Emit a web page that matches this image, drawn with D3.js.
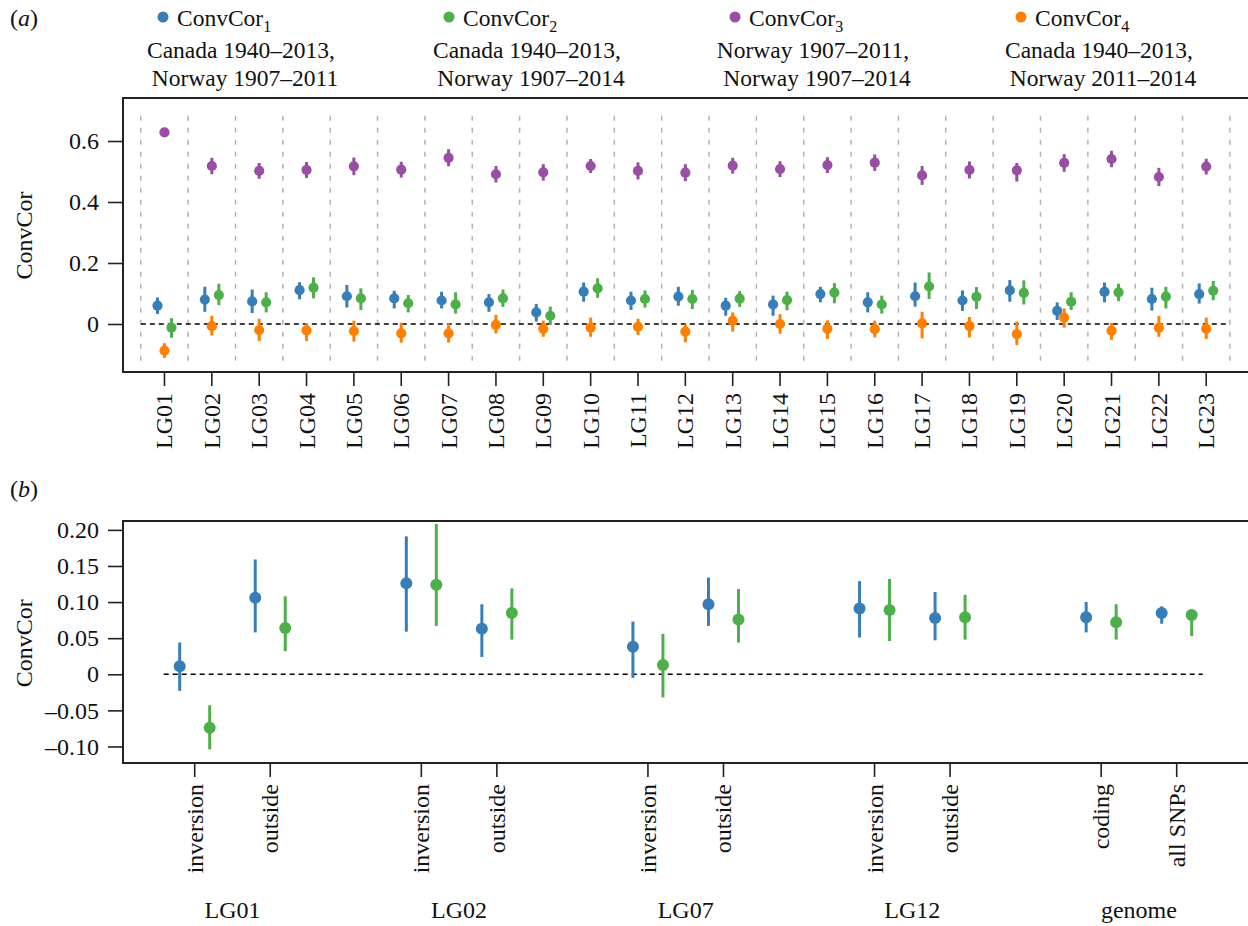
<!DOCTYPE html>
<html><head><meta charset="utf-8">
<script src="https://cdn.jsdelivr.net/npm/d3@7"></script>
<style>
body{margin:0;background:#fff;}
text{font-family:"Liberation Serif","Times New Roman",serif;fill:#111;}
</style></head>
<body><svg id="c" width="1248" height="926"></svg>
<script>
// ---------- DATA ----------
const categories = ["LG01","LG02","LG03","LG04","LG05","LG06","LG07","LG08","LG09","LG10","LG11","LG12","LG13","LG14","LG15","LG16","LG17","LG18","LG19","LG20","LG21","LG22","LG23"];

const cc1Val = [0.060,0.080,0.074,0.111,0.091,0.084,0.077,0.071,0.038,0.106,0.077,0.090,0.060,0.064,0.098,0.071,0.091,0.077,0.110,0.043,0.105,0.082,0.098];
const cc1Lo  = [0.033,0.040,0.036,0.081,0.054,0.051,0.051,0.040,0.008,0.073,0.046,0.060,0.027,0.027,0.071,0.038,0.057,0.043,0.073,0.013,0.071,0.044,0.067];
const cc1Hi  = [0.087,0.122,0.113,0.137,0.128,0.109,0.106,0.098,0.066,0.136,0.106,0.122,0.086,0.093,0.122,0.104,0.136,0.110,0.144,0.071,0.136,0.119,0.133];

const cc2Val = [-0.012,0.095,0.071,0.119,0.084,0.068,0.064,0.084,0.027,0.117,0.082,0.082,0.083,0.078,0.103,0.064,0.123,0.089,0.102,0.073,0.104,0.090,0.109];
const cc2Lo  = [-0.045,0.062,0.038,0.084,0.046,0.038,0.034,0.056,-0.003,0.086,0.054,0.049,0.056,0.045,0.068,0.034,0.082,0.049,0.064,0.046,0.075,0.051,0.078];
const cc2Hi  = [0.019,0.132,0.104,0.153,0.117,0.095,0.104,0.113,0.057,0.150,0.110,0.112,0.108,0.106,0.134,0.093,0.169,0.121,0.143,0.104,0.132,0.122,0.141];

const cc3Val = [0.628,0.518,0.502,0.505,0.517,0.506,0.545,0.491,0.497,0.518,0.502,0.496,0.519,0.508,0.521,0.529,0.487,0.505,0.504,0.528,0.541,0.482,0.516];
const cc3Lo  = [0.618,0.491,0.476,0.479,0.488,0.480,0.517,0.464,0.470,0.495,0.474,0.468,0.493,0.482,0.495,0.502,0.456,0.477,0.467,0.499,0.514,0.452,0.490];
const cc3Hi  = [0.640,0.545,0.528,0.531,0.546,0.532,0.573,0.518,0.524,0.541,0.530,0.524,0.545,0.534,0.547,0.556,0.518,0.533,0.528,0.557,0.568,0.512,0.542];

const cc4Val = [-0.087,-0.007,-0.020,-0.021,-0.023,-0.031,-0.031,-0.003,-0.016,-0.012,-0.009,-0.025,0.010,0.000,-0.016,-0.017,0.002,-0.007,-0.033,0.021,-0.022,-0.012,-0.016];
const cc4Lo  = [-0.111,-0.038,-0.056,-0.056,-0.058,-0.061,-0.061,-0.031,-0.042,-0.042,-0.036,-0.060,-0.025,-0.032,-0.049,-0.044,-0.047,-0.044,-0.069,-0.012,-0.052,-0.042,-0.049];
const cc4Hi  = [-0.063,0.027,0.017,0.003,0.011,0.004,0.002,0.030,0.011,0.021,0.017,-0.001,0.038,0.032,0.012,0.011,0.040,0.023,0.008,0.051,0.004,0.026,0.021];

const yTicksA = [0, 0.2, 0.4, 0.6];

const groupsB = ["LG01","LG02","LG07","LG12","genome"];
const subsB = [["inversion","outside"],["inversion","outside"],["inversion","outside"],["inversion","outside"],["coding","all SNPs"]];
const bBlueVal = [0.011,0.106,0.126,0.063,0.038,0.097,0.091,0.078,0.079,0.085];
const bBlueLo  = [-0.023,0.058,0.059,0.024,-0.005,0.067,0.051,0.047,0.058,0.070];
const bBlueHi  = [0.044,0.159,0.191,0.097,0.073,0.134,0.129,0.114,0.100,0.094];
const bGreenVal = [-0.074,0.064,0.124,0.085,0.013,0.076,0.089,0.079,0.072,0.082];
const bGreenLo  = [-0.104,0.032,0.067,0.048,-0.032,0.044,0.046,0.048,0.048,0.053];
const bGreenHi  = [-0.043,0.108,0.208,0.119,0.056,0.118,0.132,0.110,0.097,0.089];
const yTicksB = [-0.10,-0.05,0,0.05,0.10,0.15,0.20];

const legendNames = ["ConvCor","ConvCor","ConvCor","ConvCor"];
const legendSubs = ["1","2","3","4"];
const legendLine1 = ["Canada 1940–2013,","Canada 1940–2013,","Norway 1907–2011,","Canada 1940–2013,"];
const legendLine2 = ["Norway 1907–2011","Norway 1907–2014","Norway 1907–2014","Norway 2011–2014"];
const colors = ["#377eb8","#4daf4a","#984ea3","#ff7f00"];

// ---------- DRAW ----------
const svg = d3.select("#c");
const FS = 24;
const frameColor = "#222";

function panelLabel(y, letter){
  const t = svg.append("text").attr("x",10).attr("y",y).attr("font-size",FS);
  t.append("tspan").text("(");
  t.append("tspan").attr("font-style","italic").text(letter);
  t.append("tspan").text(")");
}
panelLabel(26,"a");
panelLabel(497,"b");

legendNames.forEach((n,i)=>{
  const dx = 163 + i*286;
  svg.append("circle").attr("cx",dx).attr("cy",17).attr("r",5.5).attr("fill",colors[i]);
  const t = svg.append("text").attr("x",dx+14).attr("y",26).attr("font-size",23.5);
  t.append("tspan").text(n);
  t.append("tspan").attr("font-size",16).attr("dy",6).text(legendSubs[i]);
  svg.append("text").attr("x",dx+78).attr("y",58).attr("text-anchor","middle").attr("font-size",23.5).text(legendLine1[i]);
  svg.append("text").attr("x",dx+82).attr("y",86).attr("text-anchor","middle").attr("font-size",23.5).text(legendLine2[i]);
});

// ---------- Panel A ----------
const A = {left:123, top:98, bottom:372, right:1252};
const xA = d3.scaleBand().domain(categories).range([140.8,1229.9]).padding(0);
const yA = d3.scaleLinear().domain([-0.1574,0.741]).range([A.bottom,A.top]);
const gA = svg.append("g");

const seps = categories.map(c=>xA(c)).concat([xA.range()[1]]);
gA.selectAll("line.sep").data(seps).enter().append("line")
  .attr("x1",d=>d).attr("x2",d=>d).attr("y1",115.7).attr("y2",361.7)
  .attr("stroke","#b3b3b3").attr("stroke-width",1.5).attr("stroke-dasharray","5,7");

gA.append("line").attr("x1",xA.range()[0]).attr("x2",xA.range()[1]-3)
  .attr("y1",yA(0)).attr("y2",yA(0)).attr("stroke","#000").attr("stroke-width",1.6).attr("stroke-dasharray","5,4");

const seriesA = [
  {val:cc1Val, lo:cc1Lo, hi:cc1Hi, color:colors[0], off:-7},
  {val:cc2Val, lo:cc2Lo, hi:cc2Hi, color:colors[1], off:7},
  {val:cc3Val, lo:cc3Lo, hi:cc3Hi, color:colors[2], off:0},
  {val:cc4Val, lo:cc4Lo, hi:cc4Hi, color:colors[3], off:0}
];
seriesA.forEach(s=>{
  const data = categories.map((c,i)=>({c, v:s.val[i], lo:s.lo[i], hi:s.hi[i]}));
  const cx = d=> xA(d.c)+xA.bandwidth()/2 + s.off;
  gA.selectAll(null).data(data).enter().append("line")
    .attr("x1",cx).attr("x2",cx).attr("y1",d=>yA(d.lo)).attr("y2",d=>yA(d.hi))
    .attr("stroke",s.color).attr("stroke-width",3);
  gA.selectAll(null).data(data).enter().append("circle")
    .attr("cx",cx).attr("cy",d=>yA(d.v)).attr("r",5.1).attr("fill",s.color);
});

gA.append("path").attr("d",`M${A.right},${A.top}H${A.left}V${A.bottom}H${A.right}`)
  .attr("fill","none").attr("stroke",frameColor).attr("stroke-width",2);

const yAxisA = d3.axisLeft(yA).tickValues(yTicksA).tickSize(15).tickPadding(9)
  .tickFormat(d=> d===0 ? "0" : d3.format(".1f")(d));
const gyA = svg.append("g").attr("transform",`translate(${A.left},0)`).call(yAxisA);
gyA.select(".domain").remove();
gyA.selectAll(".tick line").attr("stroke",frameColor).attr("stroke-width",1.6);
gyA.selectAll(".tick text").attr("font-size",FS).attr("font-family","Liberation Serif").attr("fill","#111");

const xAxisA = d3.axisBottom(xA).tickSize(14).tickPadding(0);
const gxA = svg.append("g").attr("transform",`translate(0,${A.bottom})`).call(xAxisA);
gxA.select(".domain").remove();
gxA.selectAll(".tick line").attr("stroke",frameColor).attr("stroke-width",1.6);
gxA.selectAll(".tick text").attr("font-size",FS).attr("font-family","Liberation Serif").attr("fill","#111")
  .attr("text-anchor","end").attr("dy",null).attr("y",null)
  .attr("transform","translate(8,21) rotate(-90)");

svg.append("text").attr("transform",`translate(32,${yA(0.29)}) rotate(-90)`)
  .attr("text-anchor","middle").attr("font-size",FS).text("ConvCor");

// ---------- Panel B ----------
const B = {left:123, top:521, bottom:763, right:1252};
const xB = d3.scaleLinear().domain([0,13]).range([194.7,1176.7]);
const yB = d3.scaleLinear().domain([-0.1229,0.2123]).range([B.bottom,B.top]);
const gB = svg.append("g");

const itemsB = [];
groupsB.forEach((g,gi)=>subsB[gi].forEach((s,si)=>itemsB.push({g, s, idx:gi*3+si})));

gB.append("line").attr("x1",xB(0)-31).attr("x2",xB(13)+26)
  .attr("y1",yB(0)).attr("y2",yB(0)).attr("stroke","#000").attr("stroke-width",1.6).attr("stroke-dasharray","5,4");

const seriesB = [
  {val:bBlueVal, lo:bBlueLo, hi:bBlueHi, color:colors[0], off:-15},
  {val:bGreenVal, lo:bGreenLo, hi:bGreenHi, color:colors[1], off:15}
];
seriesB.forEach(s=>{
  const data = itemsB.map((it,i)=>({idx:it.idx, v:s.val[i], lo:s.lo[i], hi:s.hi[i]}));
  const cx = d=> xB(d.idx)+s.off;
  gB.selectAll(null).data(data).enter().append("line")
    .attr("x1",cx).attr("x2",cx).attr("y1",d=>yB(d.lo)).attr("y2",d=>yB(d.hi))
    .attr("stroke",s.color).attr("stroke-width",3);
  gB.selectAll(null).data(data).enter().append("circle")
    .attr("cx",cx).attr("cy",d=>yB(d.v)).attr("r",6).attr("fill",s.color);
});

gB.append("path").attr("d",`M${B.right},${B.top}H${B.left}V${B.bottom}H${B.right}`)
  .attr("fill","none").attr("stroke",frameColor).attr("stroke-width",2);

const yAxisB = d3.axisLeft(yB).tickValues(yTicksB).tickSize(15).tickPadding(9)
  .tickFormat(d=> Math.abs(d)<1e-9 ? "0" : (d<0 ? "\u2013"+d3.format(".2f")(-d) : d3.format(".2f")(d)));
const gyB = svg.append("g").attr("transform",`translate(${B.left},0)`).call(yAxisB);
gyB.select(".domain").remove();
gyB.selectAll(".tick line").attr("stroke",frameColor).attr("stroke-width",1.6);
gyB.selectAll(".tick text").attr("font-size",FS).attr("font-family","Liberation Serif").attr("fill","#111");

const gxB = svg.append("g").attr("transform",`translate(0,${B.bottom})`);
const tB = gxB.selectAll("g").data(itemsB).enter().append("g").attr("transform",d=>`translate(${xB(d.idx)},0)`);
tB.append("line").attr("y1",0).attr("y2",14).attr("stroke",frameColor).attr("stroke-width",1.6);
tB.append("text").attr("font-size",FS).attr("text-anchor","end")
  .attr("transform","translate(8,21) rotate(-90)").text(d=>d.s);

svg.selectAll("text.grp").data(groupsB).enter().append("text")
  .attr("x",(d,i)=>(xB(i*3)+xB(i*3+1))/2).attr("y",918)
  .attr("text-anchor","middle").attr("font-size",FS).text(d=>d);

svg.append("text").attr("transform",`translate(32,${yB(0.043)}) rotate(-90)`)
  .attr("text-anchor","middle").attr("font-size",FS).text("ConvCor");
</script></body></html>
